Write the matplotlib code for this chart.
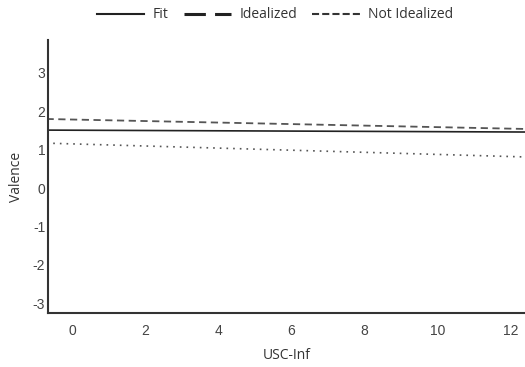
import matplotlib.pyplot as plt
from matplotlib.lines import Line2D

# data
usc = [-0.7, 12.4]
fit = [1.51, 1.46]
idealized = [1.80, 1.54]
not_idealized = [1.17, 0.81]
xticks = [0, 2, 4, 6, 8, 10, 12]
yticks = [-3, -2, -1, 0, 1, 2, 3]

fig = plt.figure(figsize=(5.25, 3.67), dpi=100)
ax = fig.add_axes([48 / 525, 1 - 313 / 367, 477 / 525, 273 / 367])

ax.plot(usc, fit, color="#222222", lw=1.2, ls="-")
ax.plot(usc, idealized, color="#555555", lw=1.3, ls=(0, (4, 2.5)))
ax.plot(usc, not_idealized, color="#555555", lw=1.2, ls=(0, (1, 3)))

ax.set_xlim(-0.66, 12.4)
ax.set_ylim(-3.26, 3.86)
tick_font = {"family": "Liberation Sans", "size": 10, "color": "#444444"}
ax.set_xticks(xticks)
ax.set_xticklabels([str(t) for t in xticks], fontdict=tick_font)
ax.set_yticks(yticks)
ax.set_yticklabels([str(t) for t in yticks], fontdict=tick_font)
ax.tick_params(axis="x", length=0, pad=8)
ax.tick_params(axis="y", length=0, pad=2)

for s in ["top", "right"]:
    ax.spines[s].set_visible(False)
for s in ["left", "bottom"]:
    ax.spines[s].set_color("#333333")
    ax.spines[s].set_linewidth(1.5)

ax.set_xlabel("USC-Inf", family="Open Sans", fontsize=10, color="#333333", labelpad=7)
ax.set_ylabel("Valence", family="Open Sans", fontsize=10, color="#333333", labelpad=6)

handles = [
    Line2D([], [], color="#222222", lw=1.5, ls="-"),
    Line2D([], [], color="#222222", lw=2.2, ls=(0, (7.0, 3.0))),
    Line2D([], [], color="#333333", lw=1.5, ls=(0, (3.4, 1.5))),
]
fig.legend(handles, ["Fit", "Idealized", "Not Idealized"], loc="center",
           bbox_to_anchor=(275 / 525, 1 - 15 / 367), ncol=3, frameon=False,
           prop={"family": "Open Sans", "size": 10}, handlelength=3.4,
           columnspacing=1.1, handletextpad=0.6, labelcolor="#333333")

fig.savefig("out.png", dpi=100)
